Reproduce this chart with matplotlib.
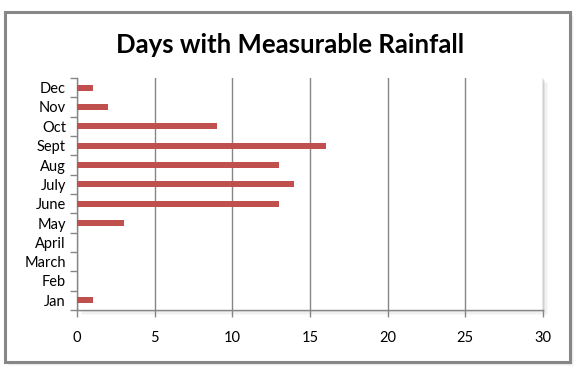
import matplotlib
matplotlib.use("Agg")
import matplotlib.pyplot as plt
from matplotlib.patches import Rectangle
import numpy as np

months = ["Jan", "Feb", "March", "April", "May", "June", "July", "Aug", "Sept", "Oct", "Nov", "Dec"]
days = [1, 0, 0, 0, 3, 13, 14, 13, 16, 9, 2, 1]
xticks = [0, 5, 10, 15, 20, 25, 30]

plt.rcParams['font.family'] = ['Lato', 'DejaVu Sans']

W, H = 580, 378
fig = plt.figure(figsize=(W / 100, H / 100), dpi=100)
fig.patch.set_facecolor("white")

def fx(px):
    return px / W

def fy(py):
    return 1 - py / H

# outer frame shadow + border
for i, a in enumerate([0.14, 0.09, 0.05]):
    d = 1.5 + i * 1.2
    fig.patches.append(Rectangle((fx(5 + d), fy(362 + d)), fx(565), (362 - 12) / H,
                                 transform=fig.transFigure, facecolor="#808080", alpha=a,
                                 edgecolor="none", zorder=0))
fig.patches.append(Rectangle((fx(5), fy(362)), fx(565), (362 - 12) / H,
                             transform=fig.transFigure, facecolor="white",
                             edgecolor="#878787", linewidth=2.2, zorder=1))

L, R, T, B = 77, 543, 78, 310
# plot area shadow
for i, a in enumerate([0.18, 0.12, 0.07, 0.04]):
    d = 1 + i * 1.3
    fig.patches.append(Rectangle((fx(L + d), fy(B + d)), fx(R - L), (B - T) / H,
                                 transform=fig.transFigure, facecolor="#7f7f7f", alpha=a,
                                 edgecolor="none", zorder=2))

ax = fig.add_axes([fx(L), fy(B), fx(R - L), (B - T) / H], zorder=3)
ax.set_facecolor("white")
y = np.arange(len(months))
ax.barh(y, days, height=0.32, color="#C0504D", zorder=3)
ax.set_xlim(0, 30)
ax.set_ylim(-0.5, len(months) - 0.5)
ax.set_xticks(xticks)
ax.set_xticklabels([str(t) for t in xticks], fontsize=10.5, color="black")
ax.set_yticks(y)
ax.set_yticklabels(months, fontsize=10.5, color="black")
ax.set_yticks(np.arange(-0.5, len(months), 1), minor=True)
ax.tick_params(axis="y", which="major", length=0, pad=8)
ax.tick_params(axis="y", which="minor", length=5, width=1, color="#868686")
ax.tick_params(axis="x", which="major", length=5, width=1, color="#868686", pad=10)
ax.xaxis.grid(True, color="#868686", linewidth=1)
ax.set_axisbelow(True)
for s in ["top", "right"]:
    ax.spines[s].set_visible(False)
for s in ["left", "bottom"]:
    ax.spines[s].set_color("#868686")
    ax.spines[s].set_linewidth(1)

fig.text(0.5, fy(45), "Days with Measurable Rainfall", ha="center", va="center",
         fontsize=18.5, fontweight="bold", color="black")

fig.savefig("out.png", dpi=100)
